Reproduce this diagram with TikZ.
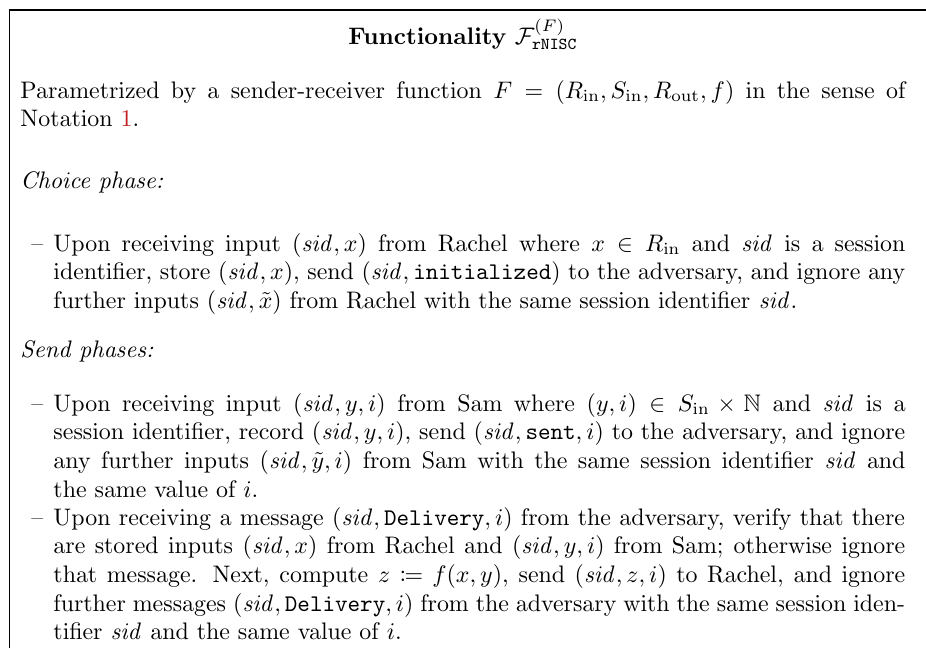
\documentclass[tikz,border=0pt]{standalone}
\usepackage[OT1]{fontenc}
\renewcommand{\rmdefault}{cmr}
\renewcommand{\ttdefault}{cmtt}
\usepackage{amsmath,amssymb,mathtools}
\usepackage{xcolor}
\definecolor{linkred}{rgb}{0.75,0.12,0.12}
\newcommand{\sidv}{\mathit{sid}}
\tikzset{
  framerule/.style={draw=black, line width=0.45pt},
  titletext/.style={anchor=base, inner sep=0pt},
  headtext/.style={anchor=base west, inner sep=0pt},
  paratext/.style={anchor=base west, inner sep=0pt, text width=#1, align=justify},
  dashlabel/.style={anchor=base west, inner sep=0pt}
}
\begin{document}
\begin{tikzpicture}[x=0.41841pt,y=-0.41841pt]
\useasboundingbox (0,0) rectangle (926,648);
\coordinate (fbl) at (9.5,648);
\coordinate (ftl) at (9.5,10);
\coordinate (ftr) at (926,10);
\draw[framerule] (fbl) -- (ftl) -- (ftr);

\node[titletext] (title) at (463,44) {\textbf{Functionality} $\mathcal{F}^{(F)}_{\texttt{rNISC}}$};

\node[paratext=370.3pt] (intro) at (20,98) {Parametrized by a sender-receiver function $F = (R_{\mathrm{in}}, S_{\mathrm{in}}, R_{\mathrm{out}}, f)$ in the sense of\linebreak Notation~\textcolor{linkred}{1}.};

\node[headtext] (choice) at (20,188) {\textit{Choice phase:}};

\node[dashlabel] (d1) at (31,251) {--};
\node[paratext=356.5pt] (item1) at (53,251) {Upon receiving input $(\sidv, x)$ from Rachel where $x \in R_{\mathrm{in}}$ and $\sidv$ is a session\linebreak identifier, store $(\sidv, x)$, send $(\sidv, \texttt{initialized})$ to the adversary, and ignore any\linebreak further inputs $(\sidv, \tilde{x})$ from Rachel with the same session identifier $\sidv$.};

\node[headtext] (send) at (20,357) {\textit{Send phases:}};

\node[dashlabel] (d2) at (31,411) {--};
\node[paratext=356.5pt] (item2) at (53,411) {Upon receiving input $(\sidv, y, i)$ from Sam where $(y, i) \in S_{\mathrm{in}} \times \mathbb{N}$ and $\sidv$ is a\linebreak session identifier, record $(\sidv, y, i)$, send $(\sidv, \texttt{sent}, i)$ to the adversary, and ignore\linebreak any further inputs $(\sidv, \tilde{y}, i)$ from Sam with the same session identifier $\sidv$ and\linebreak the same value of $i$.};

\node[dashlabel] (d3) at (31,525) {--};
\node[paratext=356.5pt] (item3) at (53,525) {Upon receiving a message $(\sidv, \texttt{Delivery}, i)$ from the adversary, verify that there\linebreak are stored inputs $(\sidv, x)$ from Rachel and $(\sidv, y, i)$ from Sam; otherwise ignore\linebreak that message. Next, compute $z \coloneqq f(x, y)$, send $(\sidv, z, i)$ to Rachel, and ignore\linebreak further messages $(\sidv, \texttt{Delivery}, i)$ from the adversary with the same session iden-\linebreak tifier $\sidv$ and the same value of $i$.};
\end{tikzpicture}
\end{document}
